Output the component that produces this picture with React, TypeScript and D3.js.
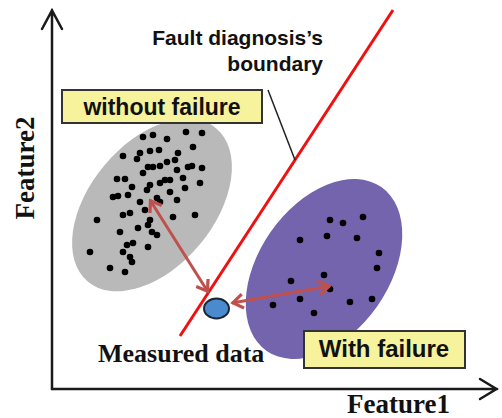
import React from "react";
import * as d3 from "d3";

// cluster samples, in feature units measured from the axis origin
const normalX = [91, 101, 115, 134, 150, 141, 71, 88, 98, 107, 85, 126, 123, 115, 108, 96, 101, 136, 140, 150, 125, 91, 113, 108, 118, 131, 65, 73, 98, 80, 133, 148, 95, 61, 66, 76, 118, 105, 88, 108, 125, 93, 71, 78, 45, 121, 143, 98, 96, 86, 68, 100, 105, 81, 75, 96, 71, 78, 38, 80, 58, 73];
const normalY = [252, 254, 250, 257, 256, 242, 233, 236, 238, 239, 230, 236, 229, 227, 223, 222, 222, 222, 223, 221, 219, 216, 209, 206, 209, 211, 210, 210, 204, 202, 201, 206, 199, 192, 193, 194, 197, 191, 187, 187, 189, 179, 174, 176, 169, 172, 174, 169, 164, 161, 157, 157, 154, 146, 144, 142, 137, 132, 137, 127, 121, 117];
const faultX = [278, 291, 311, 248, 275, 305, 327, 325, 272, 239, 278, 248, 221, 298, 320, 262];
const faultY = [169, 166, 172, 149, 153, 151, 136, 121, 114, 108, 100, 90, 84, 87, 90, 76];

// cluster regions: centre x, centre y, semi-axes, tilt (deg)
const regionNames = ["without failure", "With failure"];
const regionCx = [100, 272];
const regionCy = [184, 120];
const regionRx = [100, 100];
const regionRy = [62, 65];
const regionTilt = [-50, -55];
const regionFill = ["#b9b9b9", "#7463ad"];

// measured sample and the diagnosis boundary
const measured = { x: 164.5, y: 80.5 };
const boundary = [[128, 53], [341, 379]];
const arrows = [
  [[156, 97], [98, 189]],
  [[180, 86], [278, 103]],
];
const leader = [[216, 299], [243, 229]];

const W = 502;
const H = 418;
const origin = { x: 52, y: 389 };

export default function App() {
  const x = d3.scaleLinear().domain([0, 445]).range([origin.x, origin.x + 445]);
  const y = d3.scaleLinear().domain([0, 379]).range([origin.y, origin.y - 379]);
  const line = d3.line<number[]>().x(d => x(d[0])).y(d => y(d[1]));

  const normal = normalX.map((v, i) => [v, normalY[i]]);
  const fault = faultX.map((v, i) => [v, faultY[i]]);

  const sans = "'Liberation Sans', Arial, sans-serif";
  const serif = "'Liberation Serif', 'Times New Roman', serif";

  return (
    <svg width={W} height={H} style={{ position: "absolute", left: 0, top: 0, background: "#fff" }}>
      <defs>
        <marker id="head" markerUnits="userSpaceOnUse" markerWidth="30" markerHeight="30"
          viewBox="-15 -15 30 30" refX="0" refY="0" orient="auto-start-reverse">
          <path d="M-11,-7 L-1,0 L-11,7" fill="none" stroke="#c0504d" strokeWidth="3.2" strokeLinejoin="miter" />
        </marker>
      </defs>

      {/* cluster regions */}
      {regionNames.map((n, i) => (
        <ellipse key={n} cx={x(regionCx[i])} cy={y(regionCy[i])}
          rx={x(regionRx[i]) - x(0)} ry={x(regionRy[i]) - x(0)}
          transform={`rotate(${regionTilt[i]}, ${x(regionCx[i])}, ${y(regionCy[i])})`}
          fill={regionFill[i]} />
      ))}

      {normal.concat(fault).map((d, i) => (
        <circle key={i} cx={x(d[0])} cy={y(d[1])} r={3.3} fill="#000" />
      ))}

      {/* boundary */}
      <path d={line(boundary) ?? ""} stroke="#f01010" strokeWidth={3} fill="none" />
      <path d={line(leader) ?? ""} stroke="#222" strokeWidth={1.5} fill="none" />

      {arrows.map((a, i) => (
        <path key={i} d={line(a) ?? ""} stroke="#c0504d" strokeWidth={3}
          fill="none" markerStart="url(#head)" markerEnd="url(#head)" />
      ))}

      <ellipse cx={x(measured.x)} cy={y(measured.y)} rx={12.5} ry={10}
        fill="#4a8bd0" stroke="#1c2633" strokeWidth={2} />

      {/* axes */}
      <g stroke="#1a1a1a" strokeWidth={2.5} fill="none" strokeLinecap="round">
        <path d={`M${origin.x},${origin.y} L${origin.x},10 M${origin.x - 10},29 L${origin.x},10.5 L${origin.x + 10},29`} />
        <path d={`M${origin.x},${origin.y} L497,${origin.y} M480,379 L496.5,${origin.y} L480,399`} />
      </g>

      <text x={450} y={413} textAnchor="end" fontFamily={serif} fontWeight="bold" fontSize={27} fill="#111">Feature1</text>
      <text transform="translate(34,168) rotate(-90)" textAnchor="middle" fontFamily={serif}
        fontWeight="bold" fontSize={27} fill="#111">Feature2</text>
      <text x={98} y={362} fontFamily={serif} fontWeight="bold" fontSize={26} fill="#111">Measured data</text>

      <g fontFamily={sans} fontWeight="bold" fontSize={21} fill="#111" textAnchor="end">
        <text x={323} y={45}>Fault diagnosis’s</text>
        <text x={323} y={71}>boundary</text>
      </g>

      <rect x={62} y={90} width={200} height={33} fill="#f6f39c" stroke="#333" strokeWidth={2} />
      <text x={162} y={115} textAnchor="middle" fontFamily={sans} fontWeight="bold" fontSize={23} fill="#111">without failure</text>

      <rect x={304} y={331} width={161} height={37} fill="#f6f39c" stroke="#333" strokeWidth={2} />
      <text x={384} y={357} textAnchor="middle" fontFamily={sans} fontWeight="bold" fontSize={24} fill="#111">With failure</text>
    </svg>
  );
}
